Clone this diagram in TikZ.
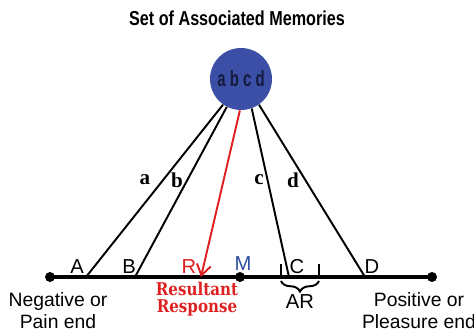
\documentclass[tikz,border=0pt]{standalone}
\usepackage{fontspec}
\setmainfont{Liberation Serif}
\setsansfont{Liberation Sans}
\newfontfamily\slabfont{DejaVu Serif}[FakeStretch=0.86]
\newfontfamily\condfont{Liberation Sans}[FakeStretch=0.8]
\newfontfamily\memfont{Liberation Sans}[FakeStretch=0.68]
\usetikzlibrary{calc, positioning, arrows.meta, decorations.pathreplacing}
\definecolor{memblue}{RGB}{59,79,166}
\definecolor{memtext}{RGB}{20,26,60}
\definecolor{resred}{RGB}{224,32,32}
\definecolor{midblue}{RGB}{44,77,160}

\begin{document}
\begin{tikzpicture}[x=0.02cm, y=-0.02cm,
    pt/.style={font=\sffamily\fontsize{11.5}{12}\selectfont, inner sep=0pt},
    endtext/.style={font=\sffamily\fontsize{11}{12.5}\selectfont, align=center, inner sep=0pt},
    link/.style={line width=1.1pt},
    linklab/.style={font=\bfseries\fontsize{12}{12}\selectfont, inner sep=0pt}]
    \useasboundingbox (0,0) rectangle (474,333);

    %% Title and memory set
    \node[font=\condfont\bfseries\fontsize{11.5}{13}\selectfont] (title) at (237,18) {Set of Associated Memories};
    \node[circle, fill=memblue, minimum size=62*0.02cm, inner sep=0pt,
          font=\memfont\bfseries\fontsize{12.5}{14}\selectfont, text=memtext] (mem) at (241,79) {a b c d};

    %% Axis
    \coordinate (neg) at (50,277);
    \coordinate (pos) at (432,277);
    \coordinate (mid) at (240,277);
    \draw[line width=2.2pt] (neg) -- (pos);
    \foreach \p in {neg, pos, mid}
    \fill (\p) circle (5);

    % Points on the axis
    \coordinate (pA) at (86,277);
    \coordinate (pB) at (135,277);
    \coordinate (pR) at (201,277);
    \coordinate (pC) at (289,277);
    \coordinate (pD) at (365,277);

    \node[pt] (lA) at (77,267) {A};
    \node[pt] (lB) at (129,267) {B};
    \node[pt, text=resred] (lR) at (189,267) {R};
    \node[pt, text=midblue] (lM) at (243,264) {M};
    \node[pt] (lC) at (297,267) {C};
    \node[pt] (lD) at (372,267) {D};

    % Links from the memories
    \draw[link] (mem.235) -- (pA);
    \draw[link] (mem.243) -- (pB);
    \draw[link] (mem.290) -- (pC);
    \draw[link] (mem.305) -- (pD);
    \draw[link, resred, -{Straight Barb[length=6pt, width=8pt]}] (mem.268) -- (pR);

    \foreach \n/\x in {a/145, b/177, c/259, d/293}
    \node[linklab] (t\n) at (\x,180) {\n};

    %% Acceptable range
    \coordinate (arL) at (281,277);
    \coordinate (arR) at (319,277);
    \draw[line width=1.4pt] (arL) -- ++(0,-13);
    \draw[line width=1.4pt] (arR) -- ++(0,-13);
    \draw[line width=1.1pt, decorate,
          decoration={brace, amplitude=6pt}] ($(arR)+(0,4)$) -- ($(arL)+(0,4)$);
    \node[pt] (lAR) at (300,302) {AR};

    %% End labels
    \node[endtext] (negtext) at (58,311) {Negative or\\Pain end};
    \node[endtext] (postext) at (419,311) {Positive or\\Pleasure end};
    \node[font=\slabfont\bfseries\fontsize{10}{10}\selectfont, text=resred, align=center,
          inner sep=0pt] (res) at (197,299) {Resultant\\Response};

\end{tikzpicture}
\end{document}
